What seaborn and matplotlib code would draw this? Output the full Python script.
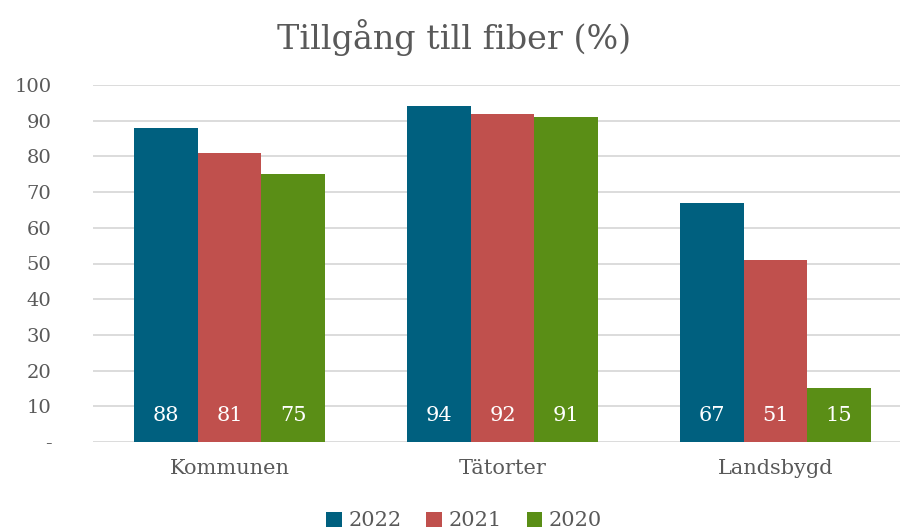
import matplotlib
matplotlib.use("Agg")
import matplotlib.pyplot as plt
import seaborn as sns
import pandas as pd

categories = ["Kommunen", "Tätorter", "Landsbygd"]
years = ["2022", "2021", "2020"]
v2022 = [88, 94, 67]
v2021 = [81, 92, 51]
v2020 = [75, 91, 15]
yticks = [0, 10, 20, 30, 40, 50, 60, 70, 80, 90, 100]
ytick_labels = ["-", "10", "20", "30", "40", "50", "60", "70", "80", "90", "100"]
title = "Tillgång till fiber (%)"
colors = ["#00607F", "#C0504D", "#5A8E16"]

sns.set_theme(style="white")
plt.rcParams["font.family"] = ["DejaVu Serif"]
txt = "#595959"

rows = []
for yr, vals in zip(years, [v2022, v2021, v2020]):
    for c, v in zip(categories, vals):
        rows.append({"cat": c, "year": yr, "val": v})
df = pd.DataFrame(rows)

fig = plt.figure(figsize=(9, 5.32), dpi=100)
ax = fig.add_axes([93 / 900, 1 - 442 / 532, 819 / 900, (442 - 85) / 532])
sns.barplot(data=df, x="cat", y="val", hue="year", hue_order=years,
            palette=colors, width=0.7, ax=ax, saturation=1, legend=True,
            linewidth=0, edgecolor="none", zorder=3)
ax.set_ylim(0, 100)
ax.set_xlim(-0.5, 2.5)
ax.set_yticks(yticks)
ax.set_yticklabels(ytick_labels)
ax.grid(axis="y", color="#D9D9D9", linewidth=1.3, zorder=0)
ax.set_axisbelow(True)
for s in ax.spines.values():
    s.set_visible(False)
ax.tick_params(axis="y", length=0, pad=30, labelsize=14, labelcolor=txt)
ax.tick_params(axis="x", length=0, pad=12, labelsize=15, labelcolor=txt)
ax.set_xlabel("")
ax.set_ylabel("")

for cont in ax.containers:
    for bar in cont:
        h = bar.get_height()
        ax.text(bar.get_x() + bar.get_width() / 2, 7.5, f"{int(round(h))}",
                ha="center", va="center", color="white", fontsize=15, zorder=4)

fig.text(0.5 + 4 / 900, 1 - 38 / 532, title, ha="center", va="center",
         fontsize=24, color=txt)

handles, labels = ax.get_legend_handles_labels()
ax.legend_.remove()
fig.legend(handles, labels, loc="center", bbox_to_anchor=(0.5 + 14 / 900, 1 - 521 / 532),
           ncol=3, frameon=False, fontsize=15, labelcolor=txt,
           handlelength=0.75, handleheight=0.75, handletextpad=0.3, columnspacing=1.2)

fig.savefig("out.png", dpi=100)
